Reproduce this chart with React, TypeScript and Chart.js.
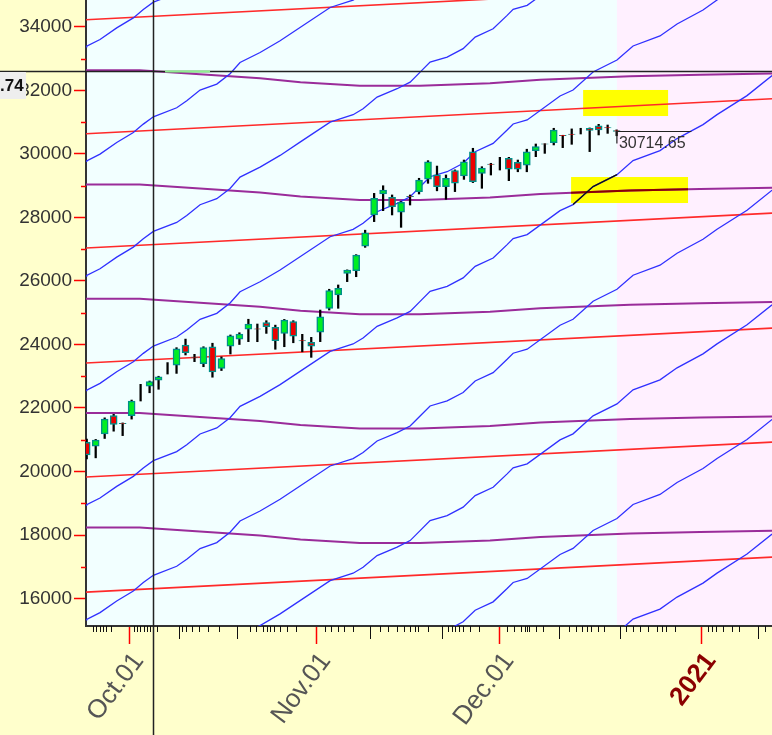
import React, { useEffect, useRef } from "react";
import { Chart, registerables } from "chart.js";

Chart.register(...registerables);

// ---- candles (one per trading session, index = position) ----
const opens = [20918, 20800, 21180, 21760, 21520, 21760, 22480, 22690, 22880, 23250, 23350, 23980, 23605, 23400, 23930, 23245, 23950, 24165, 24480, 24495, 24690, 24540, 24350, 24720, 24125, 24070, 24385, 25140, 25560, 26240, 26325, 27100, 28080, 28740, 28635, 28165, 28665, 28810, 29205, 29340, 28970, 29475, 29310, 30070, 29390, 29680, 29700, 29865, 29740, 29650, 30105, 30320, 30355, 30585, 30625, 30720, 30810, 30890, 30835, 30740];
const highs = [21020, 21010, 21690, 21800, 21530, 22250, 22745, 22850, 23000, 23430, 23900, 24170, 23690, 23930, 24040, 23610, 24300, 24370, 24795, 24645, 24750, 24610, 24790, 24750, 24320, 24225, 25085, 25740, 25875, 26350, 26830, 27600, 28760, 29000, 28710, 28500, 28710, 29235, 29790, 29620, 29340, 29500, 29810, 30180, 29600, 29707, 29895, 29895, 29810, 30150, 30315, 30325, 30810, 30590, 30790, 30810, 30820, 30935, 30913, 30760];
const lows = [20400, 20430, 21040, 21270, 21130, 21650, 22220, 22480, 22590, 23070, 23090, 23670, 23460, 23300, 22970, 23180, 23700, 24000, 24090, 24088, 24350, 23850, 23930, 24055, 23770, 23595, 24090, 25085, 25140, 25980, 26135, 27060, 27870, 28215, 28080, 27690, 28393, 28740, 29077, 28840, 28573, 28815, 29200, 29100, 28920, 29338, 29495, 29160, 29440, 29440, 29915, 30020, 30285, 30200, 30305, 30630, 30075, 30600, 30650, 30575];
const closes = [20520, 20990, 21650, 21480, 21505, 22220, 22480, 22830, 22985, 23250, 23860, 23740, 23590, 23900, 23140, 23560, 24270, 24330, 24645, 24485, 24560, 24120, 24770, 24265, 24115, 23950, 24875, 25695, 25770, 26345, 26820, 27520, 28605, 28860, 28340, 28480, 28655, 29180, 29757, 28970, 29235, 29080, 29757, 29130, 29555, 29670, 29700, 29520, 29520, 30070, 30230, 30310, 30755, 30575, 30615, 30720, 30745, 30755, 30825, 30714.65];
const lastClose = 30714.65;

// ---- axes ----
const X_MIN = -0.08;
const X_MAX = 76.3;
const Y_MIN = 15134;
const Y_MAX = 34850;
const priceTicks = [16000, 18000, 20000, 22000, 24000, 26000, 28000, 30000, 32000, 34000];
const minorPriceTicks = [17000, 19000, 21000, 23000, 25000, 27000, 29000, 31000, 33000];
const monthTickIdx = [4.8, 25.6, 46.0, 68.5];
const monthLabels = ["Oct.01", "Nov.01", "Dec.01", "2021"];
const dayTickIdx = [0.72, 1.07, 1.46, 1.8, 2.19, 2.68, 5.23, 5.63, 5.98, 6.37, 6.71, 7.1, 7.84, 10.63, 11.02, 11.76, 12.49, 13.48, 14.71, 18.14, 18.87, 19.61, 20.1, 20.44, 20.83, 21.57, 22.3, 23.29, 26.48, 27.21, 27.95, 28.68, 29.66, 32.61, 33.59, 34.57, 35.31, 36.04, 36.53, 36.92, 38.0, 40.2, 40.7, 41.04, 41.44, 41.93, 42.67, 43.65, 46.83, 47.56, 48.3, 48.79, 49.03, 49.28, 50.01, 50.76, 53.7, 54.43, 55.17, 55.66, 56.15, 56.88, 57.62, 60.08, 60.82, 61.55, 62.53, 63.51, 64.0, 64.49, 65.47, 69.14, 69.63, 70.12, 70.87, 71.85, 72.68, 75.52];
const longDayTickIdx = [10.29, 16.77, 31.53, 39.57, 52.56, 59.43, 74.69];
const futureStartIdx = 59.03;

// ---- red lines (price at left edge / right edge) ----
const redStart = [34230, 30639, 27038, 23416, 19825, 16202];
const redEnd = [35330, 31739, 28138, 24516, 20925, 17302];

// ---- purple curves ----
const purpleStart = [32640, 29040, 25440, 21840, 18240];
const purpleShapeIdx = [-0.08, 5.9, 12.6, 19.3, 23.8, 30.4, 37.1, 44.9, 50.5, 60.5, 68.3, 76.3];
const purpleShapeOffset = [0, 0, -126, -252, -378, -488, -488, -410, -300, -190, -142, -104];

// ---- blue wavy lines (one measured line + parallel shifts) ----
const blueShapeIdx = [-0.08, 0, 1.48, 3.34, 5.19, 6.3, 7.42, 10.02, 11.14, 12.62, 14.48, 15.96, 17.07, 19.3, 21.53, 23.75, 27.1, 29.66, 30.77, 32.33, 34.56, 36.01, 37.12, 38.23, 40.13, 41.91, 43.25, 45.25, 46.81, 47.48, 49.04, 52.7, 54.15, 56.38, 59.04, 60.83, 63.83, 65.73, 68.62, 70.18, 73.52, 76.31];
const blueShapePrice = [22545, 22565, 22776, 23142, 23457, 23721, 23951, 24235, 24455, 24792, 24981, 25306, 25662, 25977, 26345, 26764, 27394, 27627, 27816, 28182, 28446, 28654, 28969, 29284, 29442, 29707, 30072, 30335, 30756, 30945, 31071, 31826, 32016, 32583, 32960, 33402, 33717, 34095, 34536, 34850, 35449, 36079];
const blueShifts = [10830, 7220, 3610, 0, -3610, -7220, -10830, -14440, -18050];

// ---- highlights ----
const crossIdx = 7.38;
const crossPrice = 32614;
const greenSegIdx = [8.72, 13.73];
const boxTop = { x0: 55.27, x1: 64.73, y0: 31196, y1: 32016 };
const boxBottom = { x0: 53.93, x1: 66.95, y0: 28456, y1: 29275 };
const blackSegIdx = [54.15, 56.38, 59.04];
const blackSegPrice = [28406, 28973, 29350];
const maroonSegIdx = [53.93, 60.5, 66.95];
const maroonSegPrice = [28777, 28850, 28890];
const lastLabelEndIdx = 67.32;

const FONT = "'Liberation Sans', Arial, sans-serif";

function buildDatasets() {
  const ds: any[] = [];
  ds.push({
    type: "bar",
    data: opens.map((_, i) => ({ x: i, y: [lows[i], highs[i]] })),
    backgroundColor: "#000000",
    barThickness: 1.6,
    grouped: false,
    order: 1,
  });
  const bodies: any[] = [];
  opens.forEach((o, i) => {
    if (o !== closes[i]) bodies.push({ x: i, y: [o, closes[i]], up: closes[i] > o });
  });
  ds.push({
    type: "bar",
    data: bodies,
    backgroundColor: (c: any) => (c.raw && c.raw.up ? "#00EE22" : "#EE0000"),
    borderColor: "#00908A",
    borderWidth: 1.5,
    borderSkipped: false,
    barThickness: 7,
    grouped: false,
    order: 0,
  });
  ds.push({
    type: "line",
    data: blackSegIdx.map((x, i) => ({ x, y: blackSegPrice[i] })),
    borderColor: "#111111",
    borderWidth: 1.3,
    pointRadius: 0,
    order: 2,
  });
  ds.push({
    type: "line",
    data: maroonSegIdx.map((x, i) => ({ x, y: maroonSegPrice[i] })),
    borderColor: "#8B0000",
    borderWidth: 2,
    pointRadius: 0,
    order: 2,
  });
  blueShifts.forEach((s) => {
    ds.push({
      type: "line",
      data: blueShapeIdx.map((x, i) => ({ x, y: blueShapePrice[i] + s })),
      borderColor: "#3030FF",
      borderWidth: 1.3,
      pointRadius: 0,
      order: 5,
    });
  });
  redStart.forEach((s, k) => {
    ds.push({
      type: "line",
      data: [
        { x: X_MIN, y: s },
        { x: X_MAX, y: redEnd[k] },
      ],
      borderColor: "#FF2A2A",
      borderWidth: 1.6,
      pointRadius: 0,
      order: 6,
    });
  });
  purpleStart.forEach((s) => {
    ds.push({
      type: "line",
      data: purpleShapeIdx.map((x, i) => ({ x, y: s + purpleShapeOffset[i] })),
      borderColor: "#9A2C9A",
      borderWidth: 2,
      pointRadius: 0,
      order: 7,
    });
  });
  return ds;
}

const bgPlugin = {
  id: "bgPlugin",
  beforeDraw(chart: any) {
    const { ctx, chartArea, scales } = chart;
    const { left, top, right, bottom } = chartArea;
    const x = scales.x;
    const y = scales.y;
    ctx.save();
    ctx.fillStyle = "#FFFFCC";
    ctx.fillRect(0, 0, chart.width, chart.height);
    ctx.fillStyle = "#F2FFFF";
    ctx.fillRect(left, top, right - left, bottom - top);
    const fx = x.getPixelForValue(futureStartIdx);
    ctx.fillStyle = "#FFF0FF";
    ctx.fillRect(fx, top, right - fx, bottom - top);
    ctx.fillStyle = "#FFFF00";
    [boxTop, boxBottom].forEach((b) => {
      const x0 = x.getPixelForValue(b.x0);
      const x1 = x.getPixelForValue(b.x1);
      const y0 = y.getPixelForValue(b.y1);
      const y1 = y.getPixelForValue(b.y0);
      ctx.fillRect(x0, y0, x1 - x0, y1 - y0);
    });
    ctx.restore();
  },
  afterDraw(chart: any) {
    const { ctx, chartArea, scales } = chart;
    const { left, bottom, right } = chartArea;
    const x = scales.x;
    const y = scales.y;
    ctx.save();
    ctx.strokeStyle = "#FF0000";
    ctx.lineWidth = 1.5;
    minorPriceTicks.forEach((p) => {
      const py = Math.round(y.getPixelForValue(p)) + 0.5;
      ctx.beginPath();
      ctx.moveTo(left - 5, py);
      ctx.lineTo(left, py);
      ctx.stroke();
    });
    ctx.strokeStyle = "#111111";
    ctx.lineWidth = 1;
    dayTickIdx.forEach((d) => {
      const px = Math.round(x.getPixelForValue(d)) + 0.5;
      ctx.beginPath();
      ctx.moveTo(px, bottom);
      ctx.lineTo(px, bottom + 6);
      ctx.stroke();
    });
    longDayTickIdx.forEach((d) => {
      const px = Math.round(x.getPixelForValue(d)) + 0.5;
      ctx.beginPath();
      ctx.moveTo(px, bottom);
      ctx.lineTo(px, bottom + 13);
      ctx.stroke();
    });
    const cx = Math.round(x.getPixelForValue(crossIdx)) + 0.5;
    const cy = Math.round(y.getPixelForValue(crossPrice)) + 0.5;
    ctx.strokeStyle = "#222222";
    ctx.lineWidth = 1.5;
    ctx.beginPath();
    ctx.moveTo(cx, 0);
    ctx.lineTo(cx, chart.height);
    ctx.stroke();
    ctx.beginPath();
    ctx.moveTo(0, cy);
    ctx.lineTo(right, cy);
    ctx.stroke();
    // light green stretch on the crosshair level
    ctx.strokeStyle = "#90EE90";
    ctx.lineWidth = 2;
    ctx.beginPath();
    ctx.moveTo(x.getPixelForValue(greenSegIdx[0]), cy);
    ctx.lineTo(x.getPixelForValue(greenSegIdx[1]), cy);
    ctx.stroke();
    ctx.fillStyle = "#EEEEEE";
    ctx.fillRect(0, cy + 0.5, 26, 27);
    ctx.fillStyle = "#111111";
    ctx.font = `bold 17px ${FONT}`;
    ctx.textBaseline = "alphabetic";
    ctx.textAlign = "left";
    ctx.fillText(".74", 0, cy + 19);
    const lx0 = x.getPixelForValue(futureStartIdx);
    const lx1 = x.getPixelForValue(lastLabelEndIdx);
    const ly = Math.round(y.getPixelForValue(lastClose)) + 0.5;
    ctx.strokeStyle = "#222222";
    ctx.lineWidth = 1.2;
    ctx.beginPath();
    ctx.moveTo(lx1, ly);
    ctx.lineTo(lx0, ly);
    ctx.lineTo(lx0, ly + 12);
    ctx.stroke();
    ctx.font = `16px ${FONT}`;
    ctx.fillStyle = "#333333";
    ctx.fillText(lastClose.toFixed(2), lx0 + 2, ly + 16);
    ctx.restore();
  },
};

export default function App() {
  const ref = useRef<HTMLCanvasElement>(null);
  useEffect(() => {
    const canvas = ref.current;
    if (!canvas) return;
    const chart = new Chart(canvas, {
      type: "bar",
      data: { datasets: buildDatasets() },
      options: {
        animation: false,
        responsive: false,
        maintainAspectRatio: false,
        events: [],
        layout: { padding: 0 },
        plugins: { legend: { display: false }, tooltip: { enabled: false } },
        scales: {
          x: {
            type: "linear",
            min: X_MIN,
            max: X_MAX,
            offset: false,
            grid: { drawOnChartArea: false, offset: false, tickLength: 18, tickColor: "#FF0000", tickWidth: 1.5 },
            border: { color: "#333333", width: 2 },
            afterBuildTicks: (s: any) => {
              s.ticks = monthTickIdx.map((v) => ({ value: v }));
            },
            afterFit: (s: any) => {
              s.height = 109;
              s.paddingLeft = 0;
              s.paddingRight = 0;
              s.paddingTop = 0;
              s.paddingBottom = 0;
            },
            ticks: {
              autoSkip: false,
              minRotation: 53,
              maxRotation: 53,
              padding: 3,
              labelOffset: 9,
              color: (c: any) => (c.index === 3 ? "#8B0000" : "#555555"),
              font: (c: any) => ({ family: FONT, size: 26, weight: c.index === 3 ? "bold" : "normal" }),
              callback: (_v: any, i: number) => monthLabels[i],
            },
          },
          y: {
            type: "linear",
            position: "left",
            min: Y_MIN,
            max: Y_MAX,
            grid: { drawOnChartArea: false, tickLength: 12, tickColor: "#FF0000", tickWidth: 1.5 },
            border: { color: "#333333", width: 2 },
            afterBuildTicks: (s: any) => {
              s.ticks = priceTicks.map((v) => ({ value: v }));
            },
            afterFit: (s: any) => {
              s.width = 86;
              s.paddingTop = 0;
              s.paddingBottom = 0;
              s.paddingLeft = 0;
              s.paddingRight = 0;
            },
            ticks: {
              color: "#333333",
              padding: 2,
              font: { family: FONT, size: 19 },
              callback: (v: any) => String(v),
            },
          },
        },
      } as any,
      plugins: [bgPlugin],
    });
    return () => chart.destroy();
  }, []);
  return (
    <div style={{ position: "fixed", left: 0, top: 0, width: 772, height: 735 }}>
      <canvas ref={ref} width={772} height={735} style={{ width: 772, height: 735, display: "block" }} />
    </div>
  );
}
